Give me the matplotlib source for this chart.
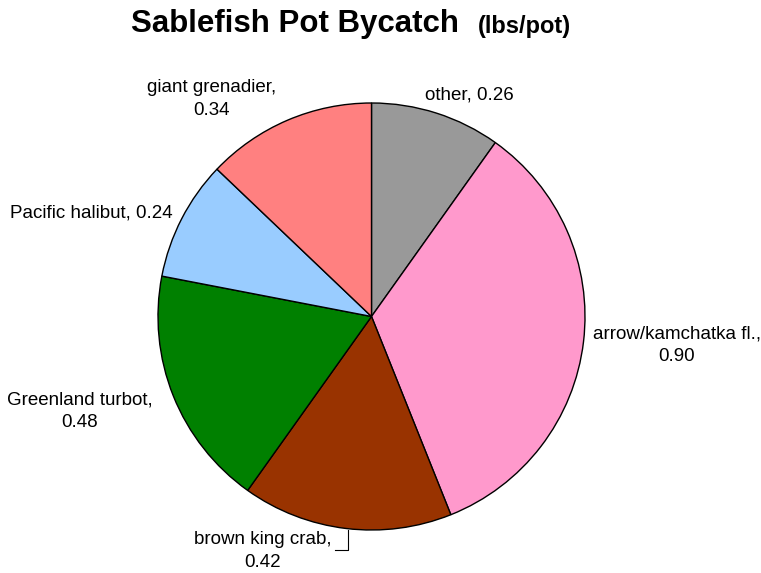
import matplotlib
matplotlib.use("Agg")
import matplotlib.pyplot as plt

# data, clockwise from 12 o'clock
species = ["other", "arrow/kamchatka fl.", "brown king crab",
           "Greenland turbot", "Pacific halibut", "giant grenadier"]
lbs_per_pot = [0.26, 0.90, 0.42, 0.48, 0.24, 0.34]
colors = ["#999999", "#FF99CC", "#993300", "#008000", "#99CCFF", "#FF8080"]

# label placement (pixel coords, y from top) and line-break style
label_pos = [(469, 95), (677, 345), (263, 551), (80, 411), (91, 213), (212, 99)]
two_line = [False, True, True, True, False, True]

plt.rcParams['font.family'] = ['Liberation Sans', 'DejaVu Sans']

W, H = 761, 573
fig = plt.figure(figsize=(W / 100, H / 100), dpi=100)
ax = fig.add_axes([0, 0, 1, 1])
ax.axis("off")

cx, cy, r = 371.5, 316.5, 213.5
ax.pie(lbs_per_pot, colors=colors, startangle=90, counterclock=False,
       center=(cx, H - cy), radius=r,
       wedgeprops=dict(edgecolor="black", linewidth=1))
ax.set_xlim(0, W)
ax.set_ylim(0, H)
ax.set_aspect("equal")

for name, val, (px, py), tl in zip(species, lbs_per_pot, label_pos, two_line):
    sep = ",\n" if tl else ", "
    ax.text(px, H - py, f"{name}{sep}{val:.2f}", ha="center", va="center",
            fontsize=13.5, linespacing=1.42)

# small leader line for brown king crab
ax.plot([335, 348, 348], [H - 550, H - 550, H - 530], color="black", lw=0.8)

fig.text(131 / W, 1 - 24 / H, "Sablefish Pot Bycatch", fontsize=22.5,
         fontweight="bold", ha="left", va="center")
fig.text(478 / W, 1 - 26 / H, "(lbs/pot)", fontsize=17,
         fontweight="bold", ha="left", va="center")

fig.savefig("out.png", dpi=100)
